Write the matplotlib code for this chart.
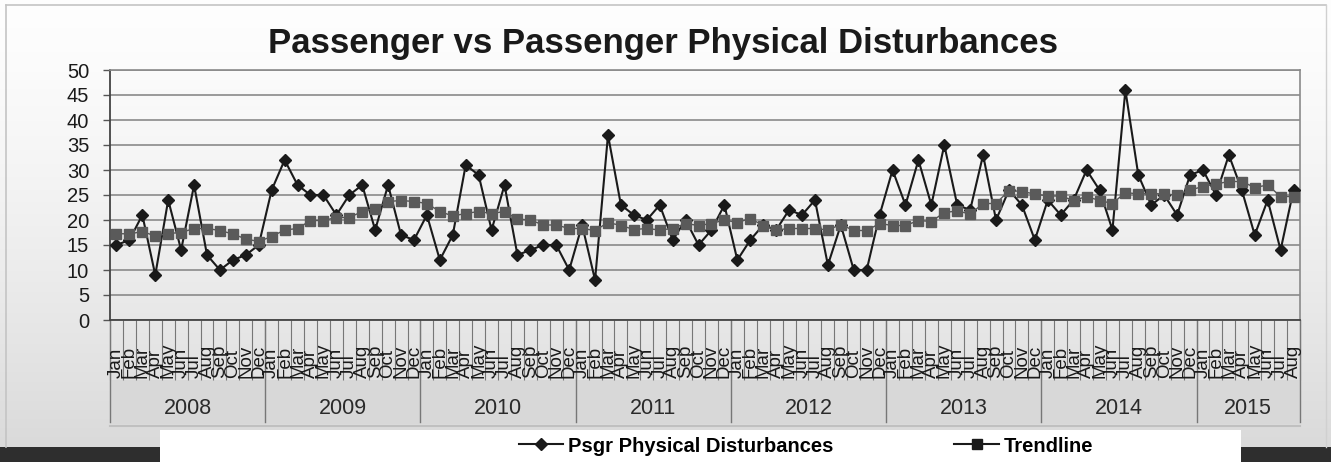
import numpy as np
import matplotlib
matplotlib.use("Agg")
import matplotlib.pyplot as plt
from matplotlib.patches import Rectangle
from matplotlib.lines import Line2D
import matplotlib.transforms as mtransforms

plt.rcParams["font.family"] = ["Liberation Sans", "DejaVu Sans"]

months = ["Jan", "Feb", "Mar", "Apr", "May", "Jun",
          "Jul", "Aug", "Sep", "Oct", "Nov", "Dec"]
years = [2008, 2009, 2010, 2011, 2012, 2013, 2014, 2015]
months_per_year = [12, 12, 12, 12, 12, 12, 12, 8]

psgr = [15, 16, 21, 9, 24, 14, 27, 13, 10, 12, 13, 15,
        26, 32, 27, 25, 25, 21, 25, 27, 18, 27, 17, 16,
        21, 12, 17, 31, 29, 18, 27, 13, 14, 15, 15, 10,
        19, 8, 37, 23, 21, 20, 23, 16, 20, 15, 18, 23,
        12, 16, 19, 18, 22, 21, 24, 11, 19, 10, 10, 21,
        30, 23, 32, 23, 35, 23, 22, 33, 20, 26, 23, 16,
        24, 21, 24, 30, 26, 18, 46, 29, 23, 25, 21, 29,
        30, 25, 33, 26, 17, 24, 14, 26]

trend = [17.3, 17.2, 17.7, 16.8, 17.3, 17.5, 18.3, 18.3, 17.9, 17.2, 16.2, 15.7,
         16.7, 18.0, 18.3, 19.9, 19.9, 20.5, 20.5, 21.7, 22.3, 23.7, 23.9, 23.7,
         23.3, 21.7, 20.8, 21.3, 21.7, 21.3, 21.7, 20.2, 20.0, 19.0, 19.0, 18.3,
         18.3, 17.9, 19.5, 18.9, 18.1, 18.3, 18.0, 18.3, 19.3, 18.9, 19.3, 20.0,
         19.5, 20.3, 18.9, 18.0, 18.3, 18.3, 18.3, 18.0, 19.1, 17.9, 17.9, 19.3,
         18.9, 18.9, 19.9, 19.7, 21.5, 21.8, 21.2, 23.3, 23.3, 25.9, 25.7, 25.2,
         24.8, 24.8, 23.9, 24.7, 23.9, 23.3, 25.5, 25.2, 25.3, 25.2, 25.0, 26.0,
         26.7, 27.2, 27.7, 27.7, 26.5, 27.0, 24.7, 24.7]

month_labels = []
for n in months_per_year:
    month_labels += months[:n]
x = np.arange(len(psgr))

W, H = 1331, 462
fig = plt.figure(figsize=(W / 100, H / 100), dpi=100)

def fx(px):
    return px / W

def fy(py):
    return 1 - py / H

# soft grey background fading downwards
bg = fig.add_axes([0, 0, 1, 1], zorder=-10)
grad = np.linspace(0, 1, 256) ** 1.4
top_c, bot_c = np.array([0.995, 0.995, 0.995]), np.array([0.855, 0.855, 0.855])
img = top_c[None, :] * (1 - grad[:, None]) + bot_c[None, :] * grad[:, None]
bg.imshow(img[:, None, :], aspect="auto", extent=[0, 1, fy(447), 1], origin="upper")
bg.set_xlim(0, 1)
bg.set_ylim(0, 1)
bg.axis("off")
bg.plot([fx(6), fx(1326)], [fy(5), fy(5)], color="#c4c4c4", lw=1.2)
bg.plot([fx(6), fx(6)], [fy(5), fy(447)], color="#c4c4c4", lw=1.2)
bg.plot([fx(1326), fx(1326)], [fy(5), fy(447)], color="#d0d0d0", lw=1.0)
# year band under the month labels
bg.add_patch(Rectangle((fx(110), fy(424)), fx(1300) - fx(110), fy(380) - fy(424),
                       facecolor="#d8d8d8", edgecolor="none"))
bg.plot([fx(110), fx(1300)], [fy(426), fy(426)], color="#c0c0c0", lw=1.5)
# legend strip and dark footer
bg.add_patch(Rectangle((0, 0), 1, fy(447), facecolor="#2e2e2e", edgecolor="none"))
bg.add_patch(Rectangle((fx(160), 0), fx(1241) - fx(160), fy(430),
                       facecolor="white", edgecolor="none"))

ax = fig.add_axes([fx(110), fy(320), fx(1300) - fx(110), fy(70) - fy(320)])
ax.patch.set_alpha(0)

ax.plot(x, psgr, color="#1a1a1a", lw=1.5, marker="D", markersize=6.3,
        markerfacecolor="#1a1a1a", markeredgecolor="#1a1a1a",
        label="Psgr Physical Disturbances", zorder=3)
ax.plot(x, trend, color="#555555", lw=1.0, marker="s", markersize=7.5,
        markerfacecolor="#5a5a5a", markeredgecolor="#5a5a5a",
        label="Trendline", zorder=4)

ax.set_xlim(-0.5, len(psgr) - 0.5)
ax.set_ylim(0, 50)
ax.set_yticks(np.arange(0, 51, 5))
ax.yaxis.grid(True, color="#8a8a8a", lw=1.2)
ax.set_axisbelow(True)
ax.tick_params(axis="y", length=5, width=1, color="#555555", pad=10,
               labelsize=14.5, labelcolor="#1a1a1a")

ax.set_xticks(x)
ax.set_xticklabels([])
ax.set_xticks(np.arange(-0.5, len(psgr), 1), minor=True)
ax.tick_params(axis="x", which="major", length=0)
ax.tick_params(axis="x", which="minor", length=43, width=0.8, color="#777777")

for side in ["top", "right"]:
    ax.spines[side].set_color("#8a8a8a")
    ax.spines[side].set_linewidth(1.2)
ax.spines["left"].set_color("#444444")
ax.spines["bottom"].set_color("#444444")
ax.spines["left"].set_linewidth(1.3)
ax.spines["bottom"].set_linewidth(1.3)

trans = mtransforms.blended_transform_factory(ax.transData, ax.transAxes)

# month names read upwards from a common baseline
for i, lab in zip(x, month_labels):
    ax.text(i, -0.232, lab, transform=trans, rotation=90, rotation_mode="anchor",
            ha="left", va="center", fontsize=13.5, color="#1a1a1a")

# year separators and labels below the months
start = 0
bounds = [-0.5]
for yr, n in zip(years, months_per_year):
    ax.text(start + n / 2 - 0.5, -0.352, str(yr), transform=trans,
            ha="center", va="center", fontsize=15.5, color="#2a2a2a")
    start += n
    bounds.append(start - 0.5)
for b in bounds:
    ax.plot([b, b], [0, -0.408], transform=trans, color="#777777",
            lw=1.0, clip_on=False)

fig.text(fx(663), fy(44), "Passenger vs Passenger Physical Disturbances",
         ha="center", va="center", fontsize=25, fontweight="bold", color="#1a1a1a")

handles = [Line2D([], [], color="#1a1a1a", lw=1.5, marker="D", markersize=6),
           Line2D([], [], color="#1a1a1a", lw=1.5, marker="s", markersize=6.5,
                  markerfacecolor="#1a1a1a")]
fig.legend(handles, ["Psgr Physical Disturbances", "Trendline"],
           loc="center", bbox_to_anchor=(fx(806), fy(446)), ncol=2,
           frameon=False, handlelength=2.2, handletextpad=0.25,
           columnspacing=6.0, prop={"size": 14.5, "weight": "bold"})

fig.savefig("out.png", dpi=100)
